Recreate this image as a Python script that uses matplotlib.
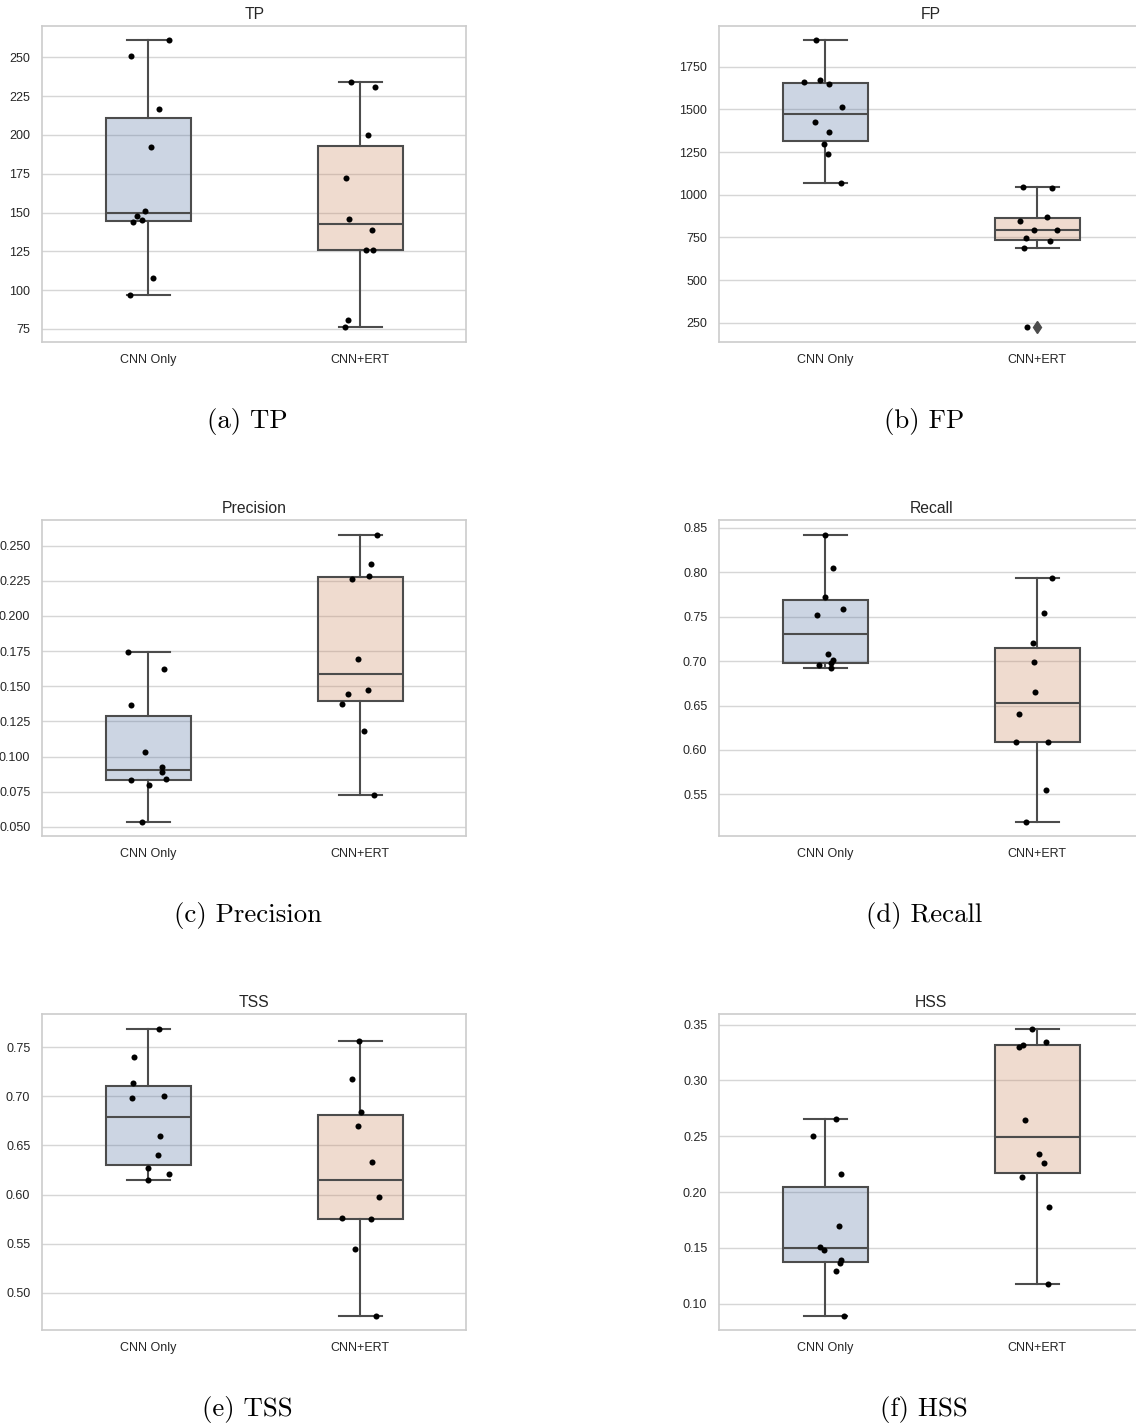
import numpy as np
import matplotlib
matplotlib.use("Agg")
import matplotlib.pyplot as plt

plt.rcParams["font.family"] = ["Liberation Sans", "DejaVu Sans"]

GROUPS = ["CNN Only", "CNN+ERT"]

# Per-run scores for the two models
TP_CNN = [261, 251, 217, 192, 151, 148, 145, 144, 108, 97]
TP_ERT = [234, 231, 200, 172, 146, 139, 126, 126, 81, 76]
FP_CNN = [1904, 1660, 1670, 1648, 1516, 1426, 1369, 1299, 1236, 1070]
FP_ERT = [1043, 1037, 869, 848, 795, 793, 748, 730, 686, 223]
PREC_CNN = [0.1744, 0.1621, 0.1370, 0.1033, 0.0924, 0.0891, 0.0841, 0.0834, 0.0799, 0.0538]
PREC_ERT = [0.2578, 0.2367, 0.2282, 0.2265, 0.1692, 0.1476, 0.1443, 0.1377, 0.1180, 0.0725]
REC_CNN = [0.8425, 0.8046, 0.7723, 0.7592, 0.7524, 0.7085, 0.7014, 0.6975, 0.6961, 0.6927]
REC_ERT = [0.7937, 0.7547, 0.7201, 0.6995, 0.6657, 0.6405, 0.6090, 0.6090, 0.5550, 0.5193]
TSS_CNN = [0.7690, 0.7402, 0.7137, 0.7001, 0.6981, 0.6601, 0.6404, 0.6272, 0.6214, 0.6147]
TSS_ERT = [0.7568, 0.7174, 0.6842, 0.6699, 0.6330, 0.5970, 0.5760, 0.5753, 0.5448, 0.4766]
HSS_CNN = [0.2655, 0.2499, 0.2159, 0.1693, 0.1505, 0.1484, 0.1394, 0.1361, 0.1293, 0.0892]
HSS_ERT = [0.3464, 0.3345, 0.3318, 0.3300, 0.2646, 0.2341, 0.2260, 0.2135, 0.1869, 0.1179]

# Horizontal strip jitter (category units), same order as the scores
JIT_TP = ([0.099, -0.080, 0.049, 0.011, -0.016, -0.055, -0.028, -0.071, 0.024, -0.085],
          [-0.042, 0.071, 0.035, -0.066, -0.052, 0.053, 0.027, 0.061, -0.058, -0.071])
JIT_FP = ([-0.046, -0.099, -0.027, 0.019, 0.077, -0.049, 0.017, -0.008, 0.013, 0.074],
          [-0.066, 0.069, 0.047, -0.082, -0.017, 0.093, -0.053, 0.061, -0.064, -0.050])
JIT_PREC = ([-0.096, 0.074, -0.082, -0.017, 0.066, 0.066, 0.082, -0.080, 0.005, -0.028],
            [0.080, 0.050, 0.039, -0.038, -0.011, 0.038, -0.057, -0.088, 0.016, 0.064])
JIT_REC = ([-0.003, 0.035, 0.000, 0.085, -0.040, 0.014, 0.035, 0.029, -0.028, 0.025],
           [0.069, 0.031, -0.022, -0.017, -0.009, -0.085, -0.099, 0.050, 0.042, -0.053])
JIT_TSS = ([0.049, -0.069, -0.074, 0.075, -0.077, 0.055, 0.047, -0.003, 0.097, -0.003],
           [-0.005, -0.038, 0.005, -0.011, 0.057, 0.090, -0.085, 0.050, -0.025, 0.075])
JIT_HSS = ([0.049, -0.060, 0.074, 0.063, -0.025, -0.005, 0.075, 0.071, 0.050, 0.088],
           [-0.027, 0.042, -0.068, -0.085, -0.060, 0.008, 0.033, -0.071, 0.055, 0.049])

PANELS = [
    ("TP", "(a) TP", TP_CNN, TP_ERT, JIT_TP, np.arange(75, 251, 25)),
    ("FP", "(b) FP", FP_CNN, FP_ERT, JIT_FP, np.arange(250, 1751, 250)),
    ("Precision", "(c) Precision", PREC_CNN, PREC_ERT, JIT_PREC, np.arange(0.050, 0.2501, 0.025)),
    ("Recall", "(d) Recall", REC_CNN, REC_ERT, JIT_REC, np.arange(0.55, 0.8501, 0.05)),
    ("TSS", "(e) TSS", TSS_CNN, TSS_ERT, JIT_TSS, np.arange(0.50, 0.7501, 0.05)),
    ("HSS", "(f) HSS", HSS_CNN, HSS_ERT, JIT_HSS, np.arange(0.10, 0.3501, 0.05)),
]

BOX_COLORS = ["#5875a4", "#cc8963"]
LINE_GRAY = "#4c4c4c"
TEXT = "#262626"
GRID = "#d6d6d6"

W, H = 1136, 1425
fig = plt.figure(figsize=(W / 100, H / 100), dpi=100)

col_x = [42.3, 719.3]
row_top = [26.0, 520.3, 1014.3]
ax_w, ax_h = 424.0, 315.7
cap_x = [247.5, 924.0]
cap_base = [428.0, 922.3, 1416.3]

for i, (title, caption, a, b, jit, ticks) in enumerate(PANELS):
    r, c = divmod(i, 2)
    left = col_x[c] / W
    bottom = 1 - (row_top[r] + ax_h) / H
    ax = fig.add_axes([left, bottom, ax_w / W, ax_h / H])
    ax.set_axisbelow(True)

    bp = ax.boxplot([a, b], positions=[0, 1], widths=0.4, whis=1.5,
                    patch_artist=True,
                    boxprops=dict(edgecolor=LINE_GRAY, linewidth=1.5),
                    medianprops=dict(color=LINE_GRAY, linewidth=1.5),
                    whiskerprops=dict(color=LINE_GRAY, linewidth=1.5),
                    capprops=dict(color=LINE_GRAY, linewidth=1.5),
                    flierprops=dict(marker="d", markerfacecolor=LINE_GRAY,
                                    markeredgecolor=LINE_GRAY, markersize=6.5))
    for patch, col in zip(bp["boxes"], BOX_COLORS):
        patch.set_facecolor(matplotlib.colors.to_rgba(col, 0.3))
        patch.set_zorder(2)

    for k, vals in enumerate([a, b]):
        xs = k + np.asarray(jit[k])
        ax.scatter(xs, vals, s=19, color="black", linewidths=0, zorder=4)

    ax.set_xlim(-0.5, 1.5)
    ax.set_xticks([0, 1])
    ax.set_xticklabels(GROUPS)
    ax.set_yticks(ticks)
    ax.grid(axis="y", color=GRID, linewidth=1.0)
    ax.grid(axis="x", visible=False)
    for sp in ax.spines.values():
        sp.set_color("#cccccc")
        sp.set_linewidth(1.2)
    ax.tick_params(axis="y", length=0, pad=8.6, labelsize=9, labelcolor=TEXT)
    ax.tick_params(axis="x", length=0, pad=8.5, labelsize=9, labelcolor=TEXT)
    ax.set_title(title, fontsize=11.3, color=TEXT, pad=5)

    fig.text(cap_x[c] / W, 1 - cap_base[r] / H, caption, ha="center",
             va="baseline", family="cmr10", fontsize=19.3, color="black")

fig.savefig("out.png", dpi=100, facecolor="white")
